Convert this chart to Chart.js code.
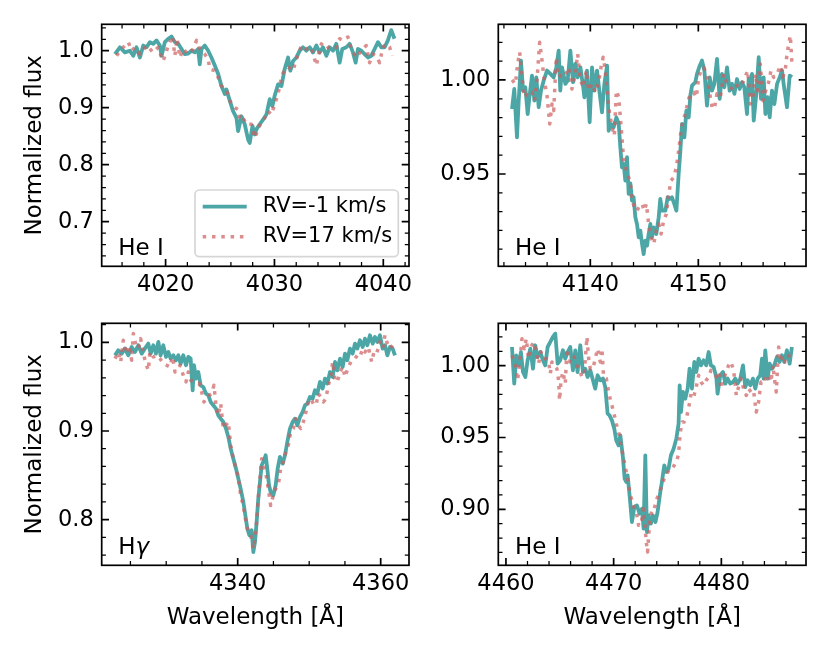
<!DOCTYPE html>
<html>
<head>
<meta charset="utf-8">
<script src="https://cdn.jsdelivr.net/npm/chart.js@4.4.1/dist/chart.umd.min.js"></script>
<style>
  html, body { margin: 0; padding: 0; background: #fff; }
  #fig { position: relative; width: 830px; height: 664px; }
  #fig canvas { position: absolute; }
</style>
</head>
<body>
<div id="fig">
  <canvas id="c4026" width="415" height="300" style="left:0;top:0"></canvas>
  <canvas id="c4144" width="415" height="300" style="left:415px;top:0"></canvas>
  <canvas id="c4340" width="415" height="364" style="left:0;top:300px"></canvas>
  <canvas id="c4471" width="415" height="364" style="left:415px;top:300px"></canvas>
</div>
<script>
// series names, line names in each panel
const seriesLabels = ['RV=-1 km/s', 'RV=17 km/s'];
const panelNames = ['He I', 'He I', 'Hγ', 'He I'];

// tick labels per panel
const xTicks4026 = [4020, 4030, 4040];
const xTicks4144 = [4140, 4150];
const xTicks4340 = [4340, 4360];
const xTicks4471 = [4460, 4470, 4480];
const yTicks4026 = [0.7, 0.8, 0.9, 1.0];
const yTicks4144 = [0.95, 1.00];
const yTicks4340 = [0.8, 0.9, 1.0];
const yTicks4471 = [0.90, 0.95, 1.00];

// He I 4026
const wave4026a = [
  4015.35,4015.80,4016.26,4016.72,4017.03,4017.33,4017.64,4017.95,4018.25,4018.56,
  4018.86,4019.17,4019.47,4019.63,4019.93,4020.24,4020.54,4020.85,4021.16,4021.46,
  4021.77,4022.07,4022.38,4022.69,4022.99,4023.14,4023.30,4023.60,4023.91,4024.21,
  4024.52,4024.83,4025.13,4025.44,4025.59,4025.90,4026.20,4026.51,4026.66,4026.97,
  4027.27,4027.58,4027.73,4027.98,4028.19,4028.34,4028.65,4028.95,4029.26,4029.57,
  4029.81,4030.02,4030.33,4030.64,4030.94,4031.25,4031.46,4031.71,4032.01,4032.32,
  4032.62,4032.93,4033.24,4033.54,4033.85,4034.15,4034.46,4034.77,4035.07,4035.38,
  4035.68,4035.99,4036.23,4036.60,4036.91,4037.21,4037.46,4037.67,4037.98,4038.28,
  4038.59,4038.89,4039.20,4039.51,4039.81,4040.12,4040.42,4040.73,4041.03];
const flux4026a = [
  0.994,1.006,0.997,1.000,0.991,1.006,0.988,1.009,1.006,1.015,
  1.012,1.018,1.009,0.991,1.015,1.021,1.025,1.015,1.012,1.003,
  0.994,0.995,1.000,0.997,1.003,0.976,1.003,1.009,1.000,0.988,
  0.974,0.959,0.938,0.924,0.932,0.912,0.894,0.882,0.859,0.885,
  0.871,0.844,0.838,0.868,0.853,0.862,0.871,0.879,0.888,0.915,
  0.903,0.921,0.941,0.938,0.968,0.988,0.965,0.982,0.988,1.000,
  1.006,1.000,1.006,0.997,1.009,0.997,1.006,0.991,1.006,1.000,
  1.012,0.979,1.003,1.006,1.012,0.997,0.979,1.003,1.000,0.994,
  0.988,0.991,1.003,1.015,1.006,1.006,1.018,1.036,1.021];
const wave4026b = [
  4015.50,4015.96,4016.57,4016.88,4017.18,4017.64,4018.25,4018.86,4019.32,4019.63,
  4019.78,4020.09,4020.39,4020.64,4020.85,4021.06,4021.31,4021.62,4022.07,4022.53,
  4022.84,4023.14,4023.60,4023.91,4024.06,4024.52,4024.83,4025.13,4025.59,4025.90,
  4026.36,4026.66,4026.81,4027.12,4027.43,4027.88,4028.19,4028.50,4028.80,4029.11,
  4029.41,4029.72,4030.02,4030.33,4030.64,4030.94,4031.25,4031.71,4032.01,4032.47,
  4032.93,4033.39,4033.85,4034.00,4034.31,4034.77,4035.22,4035.68,4035.99,4036.29,
  4036.75,4037.06,4037.52,4037.98,4038.43,4038.74,4039.05,4039.35,4039.66,4039.96,
  4040.27,4040.58,4040.82];
const flux4026b = [
  0.991,1.003,1.015,1.000,1.006,0.994,1.009,0.997,1.006,0.988,
  0.982,1.000,1.015,1.026,0.991,1.021,0.988,1.003,0.994,1.003,
  1.018,1.003,0.994,0.985,0.968,0.965,0.953,0.938,0.932,0.912,
  0.900,0.897,0.879,0.882,0.871,0.871,0.847,0.862,0.876,0.882,
  0.894,0.888,0.906,0.924,0.953,0.968,0.971,0.965,0.985,1.009,
  1.003,1.006,0.974,0.988,1.012,1.003,1.009,1.006,1.021,1.018,
  1.024,1.003,0.988,1.000,1.009,0.979,0.994,0.991,0.979,1.006,
  1.012,1.006,0.991];

// He I 4144
const wave4144a = [
  4132.75,4132.96,4133.21,4133.37,4133.58,4133.77,4133.98,4134.20,4134.38,4134.60,
  4134.82,4135.00,4135.22,4135.43,4135.68,4135.99,4136.30,4136.61,4136.85,4137.07,
  4137.22,4137.38,4137.69,4137.90,4138.15,4138.40,4138.61,4138.83,4139.08,4139.32,
  4139.45,4139.69,4139.94,4140.16,4140.37,4140.62,4140.87,4141.08,4141.30,4141.55,
  4141.70,4141.92,4142.16,4142.41,4142.63,4142.78,4142.93,4143.09,4143.24,4143.40,
  4143.55,4143.71,4143.86,4144.01,4144.17,4144.32,4144.48,4144.63,4144.79,4144.94,
  4145.09,4145.25,4145.40,4145.56,4145.71,4145.87,4146.11,4146.33,4146.48,4146.64,
  4146.95,4147.16,4147.35,4147.56,4147.78,4147.97,4148.18,4148.34,4148.49,4148.71,
  4148.89,4149.11,4149.26,4149.42,4149.72,4149.88,4150.13,4150.34,4150.56,4150.80,
  4151.05,4151.27,4151.48,4151.73,4151.98,4152.19,4152.41,4152.66,4152.90,4153.12,
  4153.34,4153.58,4153.83,4154.05,4154.26,4154.51,4154.66,4154.82,4154.97,4155.13,
  4155.37,4155.59,4155.80,4156.05,4156.21,4156.42,4156.61,4156.82,4157.04,4157.29,
  4157.53,4157.75,4157.90,4158.21,4158.46,4158.67];
const flux4144a = [
  0.9846,0.9952,0.9695,0.9890,1.0103,0.9943,0.9961,0.9819,0.9917,1.0023,
  0.9890,1.0014,0.9855,0.9943,0.9996,1.0050,1.0032,1.0014,1.0067,1.0156,
  0.9943,1.0067,0.9979,0.9996,1.0156,0.9988,1.0085,1.0014,1.0067,0.9970,
  0.9908,1.0050,0.9775,1.0067,0.9943,1.0050,0.9926,0.9828,0.9979,1.0076,
  0.9730,0.9766,0.9748,0.9801,0.9766,0.9642,0.9535,0.9553,0.9465,0.9589,
  0.9394,0.9450,0.9358,0.9376,0.9270,0.9234,0.9163,0.9199,0.9128,0.9074,
  0.9145,0.9119,0.9181,0.9234,0.9163,0.9216,0.9181,0.9270,0.9367,0.9305,
  0.9305,0.9376,0.9367,0.9376,0.9340,0.9305,0.9500,0.9624,0.9766,0.9695,
  0.9837,0.9801,0.9917,0.9970,0.9988,1.0032,1.0076,1.0103,1.0050,0.9863,
  1.0014,0.9943,0.9979,1.0112,0.9899,1.0032,0.9961,1.0067,0.9943,0.9979,
  0.9926,1.0005,0.9952,0.9988,0.9961,0.9819,1.0005,0.9926,1.0032,0.9784,
  0.9926,1.0121,0.9899,1.0014,0.9819,0.9908,0.9801,0.9943,0.9872,0.9979,
  1.0014,1.0050,0.9979,0.9855,1.0023,1.0014];
const wave4144b = [
  4132.75,4133.06,4133.27,4133.46,4133.67,4133.89,4134.14,4134.38,4134.60,4134.82,
  4135.06,4135.31,4135.53,4135.74,4135.99,4136.24,4136.45,4136.61,4136.85,4137.07,
  4137.38,4137.69,4138.00,4138.30,4138.61,4138.83,4139.08,4139.38,4139.63,4139.85,
  4140.16,4140.46,4140.77,4140.99,4141.19,4141.39,4141.70,4142.01,4142.22,4142.41,
  4142.63,4142.78,4142.93,4143.09,4143.34,4143.55,4143.71,4143.86,4144.08,4144.32,
  4144.57,4144.79,4145.00,4145.19,4145.40,4145.62,4145.87,4146.11,4146.33,4146.55,
  4146.79,4147.04,4147.26,4147.47,4147.72,4147.97,4148.18,4148.40,4148.58,4148.80,
  4149.01,4149.26,4149.57,4149.82,4150.03,4150.25,4150.50,4150.74,4150.96,4151.27,
  4151.48,4151.73,4152.04,4152.35,4152.66,4152.96,4153.27,4153.58,4153.89,4154.20,
  4154.57,4154.82,4155.06,4155.28,4155.50,4155.74,4155.99,4156.24,4156.51,4156.73,
  4156.98,4157.29,4157.60,4157.84,4158.06,4158.21,4158.37,4158.52,4158.67];
const flux4144b = [
  1.0000,0.9979,1.0085,1.0147,1.0014,0.9908,0.9926,0.9943,0.9934,0.9890,
  0.9996,1.0200,1.0103,0.9996,0.9917,0.9766,0.9872,0.9837,1.0121,1.0014,
  1.0032,1.0023,1.0067,0.9952,1.0032,1.0138,0.9996,0.9961,1.0050,0.9943,
  0.9979,0.9934,0.9988,1.0067,1.0121,1.0050,0.9855,0.9748,0.9704,0.9943,
  0.9908,0.9801,0.9695,0.9571,0.9518,0.9482,0.9450,0.9376,0.9314,0.9305,
  0.9332,0.9341,0.9305,0.9341,0.9234,0.9163,0.9128,0.9199,0.9234,0.9181,
  0.9252,0.9287,0.9394,0.9465,0.9482,0.9535,0.9624,0.9730,0.9784,0.9819,
  0.9881,0.9926,0.9934,0.9908,1.0014,1.0050,1.0067,1.0032,0.9961,0.9855,
  0.9846,0.9926,0.9908,1.0032,0.9979,0.9961,0.9943,0.9970,0.9961,0.9996,
  1.0050,0.9872,0.9908,1.0032,0.9943,1.0085,0.9890,0.9943,0.9988,1.0050,
  1.0014,1.0032,1.0076,1.0014,1.0058,1.0138,1.0191,1.0236,1.0085];

// H gamma
const wave4340a = [
  4322.84,4323.30,4323.77,4324.24,4324.70,4325.17,4325.64,4326.10,4326.57,4327.03,
  4327.50,4327.83,4328.20,4328.57,4328.90,4329.22,4329.60,4329.97,4330.30,4330.62,
  4331.00,4331.37,4331.70,4332.02,4332.39,4332.77,4333.09,4333.42,4333.70,4333.89,
  4334.17,4334.49,4334.82,4335.19,4335.57,4335.89,4336.22,4336.59,4336.96,4337.29,
  4337.62,4337.99,4338.36,4338.69,4339.02,4339.39,4339.76,4340.09,4340.41,4340.79,
  4341.07,4341.35,4341.63,4341.95,4342.19,4342.42,4342.65,4342.88,4343.12,4343.35,
  4343.58,4343.91,4344.14,4344.38,4344.61,4344.98,4345.31,4345.59,4345.91,4346.29,
  4346.61,4346.94,4347.31,4347.69,4348.01,4348.34,4348.71,4349.09,4349.41,4349.74,
  4350.11,4350.48,4350.81,4351.14,4351.51,4351.88,4352.21,4352.54,4352.91,4353.28,
  4353.61,4353.93,4354.31,4354.68,4355.01,4355.33,4355.70,4356.08,4356.40,4356.73,
  4357.10,4357.48,4357.80,4358.13,4358.50,4358.88,4359.20,4359.53,4359.90,4360.27,
  4360.60,4360.93,4361.30,4361.67,4362.00];
const flux4340a = [
  0.9853,0.9910,0.9872,0.9929,0.9853,0.9947,0.9891,0.9966,0.9872,0.9929,
  0.9985,0.9872,0.9966,0.9872,1.0004,0.9853,0.9966,0.9835,0.9891,0.9816,
  0.9853,0.9797,0.9853,0.9759,0.9853,0.9741,0.9835,0.9816,0.9459,0.9741,
  0.9590,0.9665,0.9515,0.9496,0.9421,0.9402,0.9327,0.9290,0.9252,0.9177,
  0.9139,0.9102,0.9027,0.8933,0.8801,0.8688,0.8576,0.8463,0.8350,0.8200,
  0.8050,0.7899,0.7824,0.7881,0.7636,0.7749,0.7974,0.8238,0.8425,0.8613,
  0.8651,0.8726,0.8576,0.8388,0.8313,0.8275,0.8388,0.8576,0.8707,0.8632,
  0.8726,0.8876,0.9027,0.9102,0.9139,0.9064,0.9158,0.9215,0.9290,0.9309,
  0.9384,0.9365,0.9459,0.9421,0.9553,0.9478,0.9590,0.9534,0.9665,0.9609,
  0.9778,0.9684,0.9816,0.9722,0.9872,0.9797,0.9929,0.9872,0.9985,0.9929,
  1.0023,0.9947,1.0041,0.9966,1.0079,0.9985,1.0060,1.0004,1.0079,0.9929,
  0.9966,0.9853,0.9947,0.9929,0.9853];
const wave4340b = [
  4322.84,4323.30,4323.63,4324.00,4324.38,4324.84,4325.17,4325.40,4325.77,4326.10,
  4326.43,4326.80,4327.17,4327.50,4327.73,4328.20,4328.67,4329.13,4329.60,4330.06,
  4330.53,4330.90,4331.23,4331.56,4331.93,4332.39,4332.77,4333.09,4333.42,4333.79,
  4334.26,4334.63,4334.96,4335.29,4335.66,4336.03,4336.36,4336.68,4336.96,4337.29,
  4337.62,4337.99,4338.36,4338.69,4339.02,4339.39,4339.76,4340.09,4340.41,4340.79,
  4341.16,4341.49,4341.81,4342.19,4342.42,4342.65,4342.88,4343.12,4343.35,4343.58,
  4343.91,4344.28,4344.61,4344.98,4345.31,4345.68,4346.01,4346.38,4346.75,4347.08,
  4347.41,4347.78,4348.15,4348.48,4348.81,4349.18,4349.55,4349.88,4350.20,4350.58,
  4350.95,4351.28,4351.60,4351.98,4352.35,4352.67,4353.00,4353.28,4353.61,4353.93,
  4354.31,4354.68,4355.01,4355.47,4355.94,4356.40,4356.73,4357.10,4357.48,4357.80,
  4358.27,4358.74,4359.06,4359.43,4359.90,4360.27,4360.60,4360.93,4361.30,4361.67];
const flux4340b = [
  0.9816,0.9891,0.9778,1.0023,0.9872,0.9966,0.9797,1.0098,0.9966,0.9929,
  1.0041,0.9872,0.9759,0.9684,0.9891,0.9835,0.9853,0.9816,0.9759,0.9741,
  0.9722,0.9835,0.9665,0.9684,0.9741,0.9628,0.9553,0.9665,0.9572,0.9553,
  0.9534,0.9534,0.9440,0.9327,0.9384,0.9402,0.9421,0.9515,0.9290,0.9177,
  0.9309,0.9027,0.9064,0.9102,0.8839,0.8688,0.8576,0.8482,0.8275,0.8160,
  0.7974,0.7862,0.7824,0.7674,0.7786,0.7974,0.8238,0.8463,0.8688,0.8613,
  0.8538,0.8350,0.8160,0.8275,0.8350,0.8388,0.8576,0.8651,0.8764,0.8839,
  0.8989,0.9027,0.9139,0.9064,0.9027,0.9102,0.9215,0.9327,0.9365,0.9309,
  0.9290,0.9421,0.9384,0.9327,0.9365,0.9515,0.9609,0.9778,0.9571,0.9553,
  0.9665,0.9722,0.9609,0.9722,0.9797,0.9816,0.9853,0.9835,0.9929,0.9891,
  0.9947,0.9778,0.9891,0.9872,1.0004,0.9929,1.0079,0.9985,0.9929,0.9966];

// He I 4471
const wave4471a = [
  4460.56,4460.77,4460.96,4461.18,4461.39,4461.58,4461.80,4462.01,4462.26,4462.51,
  4462.72,4462.94,4463.19,4463.44,4463.65,4463.87,4464.12,4464.36,4464.58,4464.80,
  4465.04,4465.29,4465.51,4465.73,4465.97,4466.22,4466.44,4466.65,4466.90,4467.15,
  4467.37,4467.58,4467.83,4468.08,4468.29,4468.51,4468.76,4469.01,4469.22,4469.44,
  4469.62,4469.84,4470.06,4470.24,4470.46,4470.62,4470.86,4471.02,4471.17,4471.30,
  4471.48,4471.70,4471.92,4472.16,4472.41,4472.63,4472.78,4472.94,4473.09,4473.25,
  4473.46,4473.65,4473.88,4474.08,4474.33,4474.48,4474.70,4474.89,4475.10,4475.32,
  4475.57,4475.82,4476.03,4476.13,4476.25,4476.43,4476.65,4476.87,4477.05,4477.27,
  4477.49,4477.67,4477.89,4478.11,4478.35,4478.60,4478.82,4479.03,4479.28,4479.53,
  4479.65,4479.90,4480.15,4480.37,4480.58,4480.83,4481.08,4481.29,4481.51,4481.76,
  4482.01,4482.22,4482.44,4482.69,4482.93,4483.15,4483.37,4483.61,4483.77,4483.92,
  4484.08,4484.30,4484.48,4484.70,4484.91,4485.16,4485.41,4485.63,4485.84,4486.09,
  4486.34,4486.55];
const flux4471a = [
  1.0130,0.9875,1.0072,1.0002,1.0095,0.9956,0.9921,1.0037,1.0118,0.9979,
  1.0142,1.0060,1.0095,1.0037,1.0002,1.0130,1.0165,1.0200,1.0223,1.0014,
  1.0037,1.0107,1.0049,1.0095,1.0130,0.9968,1.0107,0.9956,1.0142,0.9956,
  0.9979,0.9921,0.9968,0.9898,0.9840,0.9933,0.9898,0.9910,0.9851,0.9666,
  0.9654,0.9619,0.9561,0.9480,0.9445,0.9515,0.9364,0.9213,0.9190,0.9236,
  0.9097,0.8911,0.9016,0.9027,0.8969,0.9004,0.8865,0.9376,0.8842,0.8958,
  0.8900,0.8958,0.8911,0.8981,0.9120,0.9190,0.9306,0.9260,0.9283,0.9376,
  0.9422,0.9492,0.9596,0.9863,0.9677,0.9817,0.9770,0.9840,0.9979,0.9840,
  1.0026,0.9956,1.0049,1.0002,1.0037,1.0002,1.0095,1.0002,0.9991,0.9921,
  0.9805,0.9933,0.9956,0.9875,0.9910,0.9875,0.9886,0.9910,0.9875,0.9910,
  1.0002,0.9851,0.9898,0.9863,0.9910,0.9840,0.9910,0.9933,1.0049,0.9910,
  1.0107,0.9910,1.0014,0.9979,1.0002,1.0060,1.0026,1.0072,1.0026,1.0107,
  1.0014,1.0130];
const wave4471b = [
  4460.56,4460.87,4461.08,4461.27,4461.49,4461.70,4461.89,4462.10,4462.32,4462.57,
  4462.82,4463.03,4463.25,4463.50,4463.74,4463.96,4464.12,4464.27,4464.49,4464.73,
  4464.89,4464.98,4465.11,4465.29,4465.51,4465.66,4465.91,4466.13,4466.34,4466.59,
  4466.84,4467.06,4467.27,4467.52,4467.68,4467.83,4468.08,4468.29,4468.51,4468.76,
  4468.91,4469.07,4469.32,4469.53,4469.75,4470.00,4470.24,4470.46,4470.68,4470.93,
  4471.17,4471.39,4471.61,4471.85,4472.10,4472.32,4472.53,4472.78,4473.03,4473.15,
  4473.34,4473.56,4473.77,4474.02,4474.27,4474.48,4474.70,4474.95,4475.20,4475.41,
  4475.63,4475.88,4476.03,4476.19,4476.37,4476.56,4476.74,4476.96,4477.18,4477.43,
  4477.67,4477.89,4478.11,4478.35,4478.60,4478.82,4479.03,4479.28,4479.53,4479.75,
  4479.96,4480.21,4480.46,4480.67,4480.89,4481.14,4481.39,4481.60,4481.82,4482.07,
  4482.31,4482.53,4482.75,4482.99,4483.24,4483.46,4483.68,4483.92,4484.17,4484.39,
  4484.61,4484.79,4484.91,4485.10,4485.32,4485.53,4485.72,4485.93,4486.15,4486.40];
const flux4471b = [
  1.0072,1.0002,0.9898,1.0014,1.0188,1.0118,1.0188,1.0049,1.0130,1.0165,
  1.0095,1.0014,1.0095,1.0049,1.0049,1.0026,0.9944,1.0026,1.0002,0.9979,
  0.9898,0.9759,0.9898,0.9956,0.9875,1.0118,1.0026,1.0072,1.0060,1.0002,
  0.9968,0.9921,0.9944,1.0200,1.0049,0.9979,0.9979,1.0049,1.0118,1.0026,
  1.0118,0.9921,0.9910,0.9817,0.9747,0.9677,0.9596,0.9538,0.9445,0.9352,
  0.9260,0.9167,0.9085,0.9016,0.8981,0.8888,0.8888,0.9004,0.8772,0.8702,
  0.8911,0.9004,0.9004,0.9074,0.9120,0.9167,0.9213,0.9248,0.9283,0.9283,
  0.9306,0.9341,0.9387,0.9538,0.9608,0.9608,0.9631,0.9701,0.9805,0.9782,
  0.9851,0.9933,0.9886,0.9863,0.9898,0.9921,0.9968,0.9956,0.9921,0.9956,
  0.9840,0.9910,0.9956,1.0002,1.0026,0.9968,0.9793,0.9851,0.9910,0.9840,
  0.9793,0.9840,0.9817,0.9828,0.9677,0.9747,0.9886,0.9875,0.9933,0.9933,
  0.9886,1.0002,0.9921,0.9817,1.0130,1.0026,1.0072,1.0026,1.0026,1.0118];

Chart.defaults.font.family = "'DejaVu Sans', sans-serif";
Chart.defaults.font.size = 22.5;
Chart.defaults.color = '#000';

const tealColor = 'rgba(0,128,128,0.7)';
const pinkColor = 'rgba(205,92,92,0.7)';

function pts(w, f) {
    return w.map((x, i) => ({ x: x, y: f[i] }));
}

// box around the axes, inward ticks on all four sides, minor ticks too
const frameTicks = {
    id: 'frameTicks',
    afterDraw(chart, args, o) {
        const { ctx, chartArea: a } = chart;
        const xs = chart.scales.x, ys = chart.scales.y;
        const minors = (s, step) => {
            const maj = s.ticks.map(t => t.value);
            const out = [];
            for (let k = Math.ceil(s.min / step - 1e-9); k * step <= s.max + 1e-9; k++) {
                const v = Math.round(k * step * 1e4) / 1e4;
                if (!maj.some(m => Math.abs(m - v) < 1e-6)) out.push(v);
            }
            return out;
        };
        const tickX = (vals, len, w) => {
            ctx.lineWidth = w;
            ctx.beginPath();
            vals.forEach(v => {
                const p = xs.getPixelForValue(v);
                ctx.moveTo(p, a.bottom); ctx.lineTo(p, a.bottom - len);
                ctx.moveTo(p, a.top); ctx.lineTo(p, a.top + len);
            });
            ctx.stroke();
        };
        const tickY = (vals, len, w) => {
            ctx.lineWidth = w;
            ctx.beginPath();
            vals.forEach(v => {
                const p = ys.getPixelForValue(v);
                ctx.moveTo(a.left, p); ctx.lineTo(a.left + len, p);
                ctx.moveTo(a.right, p); ctx.lineTo(a.right - len, p);
            });
            ctx.stroke();
        };
        ctx.save();
        ctx.strokeStyle = '#000';
        tickX(minors(xs, o.xMinor), 4.2, 1.25);
        tickY(minors(ys, o.yMinor), 4.2, 1.25);
        tickX(xs.ticks.map(t => t.value), 7.3, 1.7);
        tickY(ys.ticks.map(t => t.value), 7.3, 1.7);
        ctx.lineWidth = 1.7;
        ctx.strokeRect(a.left, a.top, a.right - a.left, a.bottom - a.top);
        ctx.restore();
    }
};

// line name in the lower left corner, greek letters in italic
const panelText = {
    id: 'panelText',
    afterDatasetsDraw(chart, args, o) {
        const { ctx, chartArea: a } = chart;
        ctx.save();
        ctx.fillStyle = '#000';
        ctx.textBaseline = 'alphabetic';
        let px = a.left + 16.6;
        const py = a.bottom - 11.5;
        for (const ch of o.text) {
            const greek = /[\u0370-\u03ff]/.test(ch);
            ctx.font = (greek ? 'italic ' : '') + "23px 'DejaVu Sans'";
            ctx.fillText(ch, px, py);
            px += ctx.measureText(ch).width;
        }
        ctx.restore();
    }
};

// framed legend like matplotlib's, only in the first panel
const boxLegend = {
    id: 'boxLegend',
    afterDraw(chart, args, o) {
        if (!o.show) return;
        const ctx = chart.ctx;
        ctx.save();
        ctx.beginPath();
        ctx.roundRect(o.x, o.y, o.w, o.h, 4.4);
        ctx.fillStyle = 'rgba(255,255,255,0.8)';
        ctx.fill();
        ctx.strokeStyle = 'rgba(204,204,204,0.8)';
        ctx.lineWidth = 1.7;
        ctx.stroke();
        chart.data.datasets.forEach((ds, i) => {
            const yy = o.y + 16.7 + i * 30;
            ctx.strokeStyle = ds.borderColor;
            ctx.lineWidth = ds.borderWidth;
            ctx.setLineDash(ds.borderDash || []);
            ctx.beginPath();
            ctx.moveTo(o.x + 7.7, yy);
            ctx.lineTo(o.x + 51.7, yy);
            ctx.stroke();
            ctx.setLineDash([]);
            ctx.fillStyle = '#000';
            ctx.font = "21px 'DejaVu Sans'";
            ctx.textBaseline = 'middle';
            ctx.fillText(ds.label, o.x + 67.7, yy);
        });
        ctx.restore();
    }
};

function buildPanel(id, p) {
    return new Chart(document.getElementById(id), {
        type: 'line',
        data: {
            datasets: [{
                label: seriesLabels[0],
                data: pts(p.waveA, p.fluxA),
                borderColor: tealColor,
                borderWidth: 3.8,
                borderJoinStyle: 'round',
                order: 1
            }, {
                label: seriesLabels[1],
                data: pts(p.waveB, p.fluxB),
                borderColor: pinkColor,
                borderWidth: 3.5,
                borderDash: [3.5, 5.8],
                borderJoinStyle: 'round',
                order: 0
            }]
        },
        options: {
            responsive: false,
            animation: false,
            events: [],
            elements: { point: { radius: 0 }, line: { tension: 0, fill: false } },
            layout: { padding: { left: 0, top: p.padTop, right: p.padRight, bottom: 0 } },
            scales: {
                x: {
                    type: 'linear',
                    min: p.xRange[0],
                    max: p.xRange[1],
                    grid: { display: false, drawTicks: false },
                    border: { display: false },
                    ticks: { autoSkip: false, maxRotation: 0, padding: 5, callback: v => String(v) },
                    afterBuildTicks: s => { s.ticks = p.xTicks.map(v => ({ value: v })); },
                    afterFit: s => { s.height = p.xAxisH; s.paddingLeft = 0; s.paddingRight = 0; },
                    title: { display: p.xTitle, text: 'Wavelength [Å]', font: { size: 23 }, padding: { top: 0, bottom: 31.9 } }
                },
                y: {
                    min: p.yRange[0],
                    max: p.yRange[1],
                    grid: { display: false, drawTicks: false },
                    border: { display: false },
                    ticks: { autoSkip: false, padding: 8, callback: v => v.toFixed(p.yDec) },
                    afterBuildTicks: s => { s.ticks = p.yTicks.map(v => ({ value: v })); },
                    afterFit: s => { s.width = p.yAxisW; s.paddingTop = 0; s.paddingBottom = 0; },
                    title: { display: p.yTitle, text: 'Normalized flux', font: { size: 23 }, padding: { top: 21.2, bottom: 0 } }
                }
            },
            plugins: {
                legend: { display: false },
                tooltip: { enabled: false },
                frameTicks: { xMinor: p.xMinor, yMinor: p.yMinor },
                panelText: { text: p.name },
                boxLegend: { show: p.legend, x: 195, y: 190, w: 203.3, h: 66.7 }
            }
        },
        plugins: [frameTicks, panelText, boxLegend]
    });
}

buildPanel('c4026', {
    waveA: wave4026a, fluxA: flux4026a, waveB: wave4026b, fluxB: flux4026b,
    xRange: [4014.13, 4042.36], yRange: [0.6218, 1.0463],
    xTicks: xTicks4026, yTicks: yTicks4026, yDec: 1, xMinor: 2, yMinor: 0.02,
    padTop: 24.3, padRight: 6, yAxisW: 101.7, xAxisH: 33.7,
    xTitle: false, yTitle: true, name: panelNames[0], legend: true
});
buildPanel('c4144', {
    waveA: wave4144a, fluxA: flux4144a, waveB: wave4144b, fluxB: flux4144b,
    xRange: [4131.48, 4159.97], yRange: [0.9009, 1.0296],
    xTicks: xTicks4144, yTicks: yTicks4144, yDec: 2, xMinor: 2, yMinor: 0.01,
    padTop: 24.3, padRight: 24, yAxisW: 83.3, xAxisH: 33.7,
    xTitle: false, yTitle: false, name: panelNames[1], legend: false
});
buildPanel('c4340', {
    waveA: wave4340a, fluxA: flux4340a, waveB: wave4340b, fluxB: flux4340b,
    xRange: [4320.98, 4363.96], yRange: [0.7486, 1.0214],
    xTicks: xTicks4340, yTicks: yTicks4340, yDec: 1, xMinor: 5, yMinor: 0.02,
    padTop: 23.3, padRight: 6, yAxisW: 101.7, xAxisH: 98.7,
    xTitle: true, yTitle: true, name: panelNames[2], legend: false
});
buildPanel('c4471', {
    waveA: wave4471a, fluxA: flux4471a, waveB: wave4471b, fluxB: flux4471b,
    xRange: [4459.29, 4487.86], yRange: [0.861, 1.0295],
    xTicks: xTicks4471, yTicks: yTicks4471, yDec: 2, xMinor: 2, yMinor: 0.01,
    padTop: 23.3, padRight: 24, yAxisW: 83.3, xAxisH: 98.7,
    xTitle: true, yTitle: false, name: panelNames[3], legend: false
});
</script>
</body>
</html>
